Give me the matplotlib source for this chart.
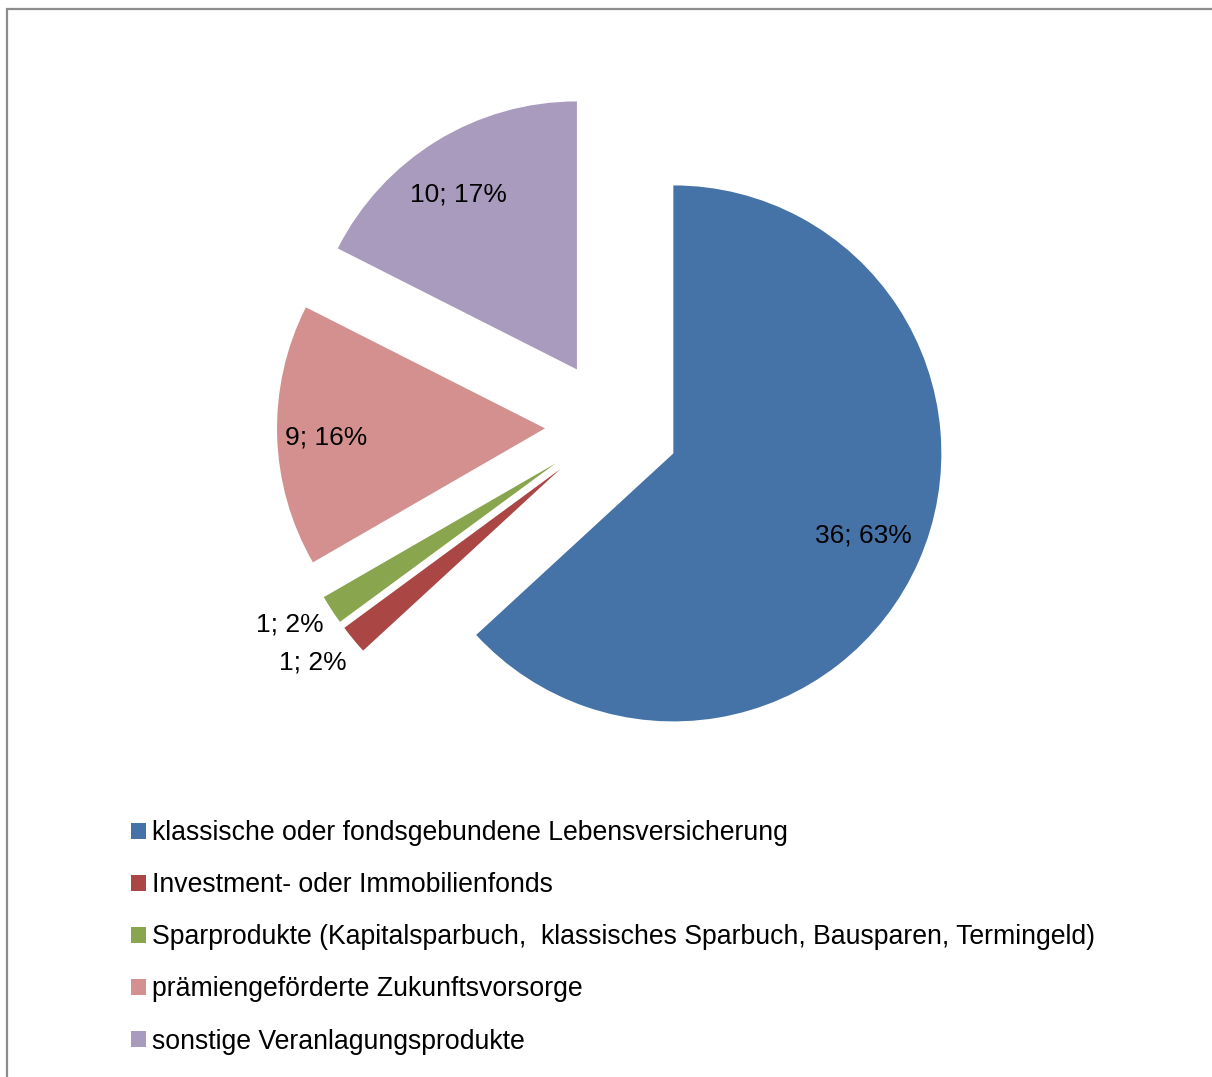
import numpy as np
import matplotlib
matplotlib.use("Agg")
import matplotlib.pyplot as plt
from matplotlib.patches import Rectangle

plt.rcParams['font.family'] = ['Liberation Sans', 'DejaVu Sans']

# Daten
kategorien = [
    "klassische oder fondsgebundene Lebensversicherung",
    "Investment- oder Immobilienfonds",
    "Sparprodukte (Kapitalsparbuch,  klassisches Sparbuch, Bausparen, Termingeld)",
    "prämiengeförderte Zukunftsvorsorge",
    "sonstige Veranlagungsprodukte",
]
anzahl = [36, 1, 1, 9, 10]
prozent = [63, 2, 2, 16, 17]
farben = ['#4573A7', '#AA4643', '#89A54E', '#D3908E', '#A99BBD']

# Beschriftungsabstand (in Radien, ab Mittelpunkt) und Winkelkorrektur
abstand = [1.017, 1.414, 1.407, 1.068, 1.047]
winkel_korr = [0.7, -1.5, -2.0, 0.2, 1.7]

W, H = 1212, 1077
fig = plt.figure(figsize=(W / 100, H / 100), dpi=100)

# Rahmen (nur links/oben sichtbar)
fig.patches.append(Rectangle((7 / W, -0.1), 1.2, (H - 9) / H + 0.1,
                             transform=fig.transFigure, fill=False,
                             edgecolor='#8c8c8c', linewidth=1.6))

r_px = 268.0
cx, cy = 612.0, H - 426.5
ax = fig.add_axes([0, 0, 1, 1])
wedges, _ = ax.pie(anzahl, colors=farben, startangle=90, counterclock=False,
                   explode=[0.25] * len(anzahl), radius=1.0,
                   wedgeprops=dict(linewidth=0))
ax.set_xlim(-cx / r_px, (W - cx) / r_px)
ax.set_ylim(-cy / r_px, (H - cy) / r_px)
ax.set_aspect('auto')
ax.axis('off')

for w, n, p, d, k in zip(wedges, anzahl, prozent, abstand, winkel_korr):
    mitte = np.deg2rad(0.5 * (w.theta1 + w.theta2) + k)
    ax.text(d * np.cos(mitte), d * np.sin(mitte), f"{n}; {p}%",
            ha='center', va='center_baseline', fontsize=19, color='black')

fig.legend(wedges, kategorien, loc='upper left',
           bbox_to_anchor=(131 / W, 1 - 820 / H), frameon=False,
           fontsize=19.2, handlelength=0.55, handleheight=0.55,
           handletextpad=0.22, labelspacing=0.98, borderpad=0,
           borderaxespad=0)

fig.savefig("out.png", dpi=100, facecolor='white')
